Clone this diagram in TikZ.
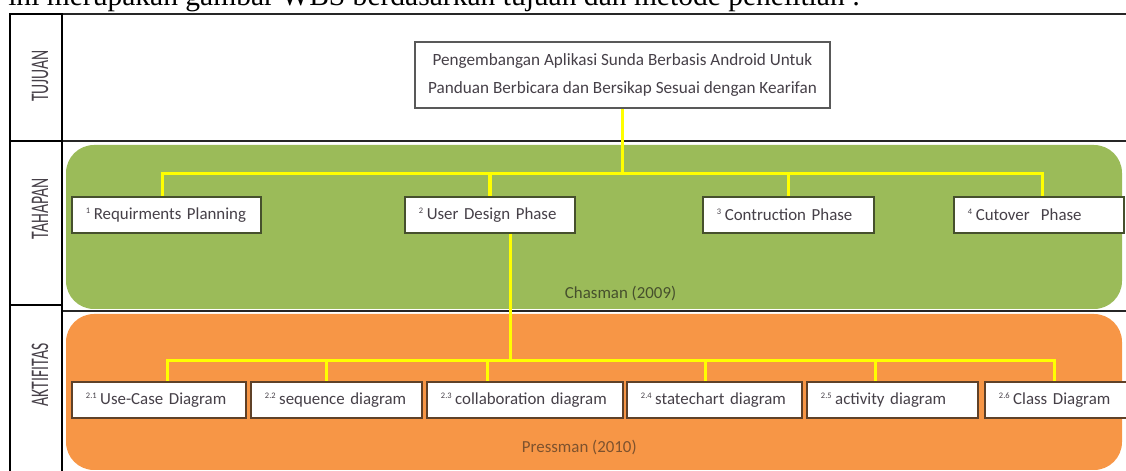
\documentclass[tikz,border=0pt]{standalone}
\usepackage{fontspec}
\setmainfont{Carlito}
\newfontfamily\docserif{Liberation Serif}
\usetikzlibrary{positioning,calc}

\definecolor{tahapgreen}{RGB}{155,187,89}
\definecolor{aktiforange}{RGB}{247,150,70}
\definecolor{lineyellow}{RGB}{255,255,0}
\definecolor{textgray}{RGB}{70,64,72}
\definecolor{greenedge}{RGB}{70,80,45}
\definecolor{orangeedge}{RGB}{95,65,40}

\newcommand{\boxfont}{\fontsize{12}{14}\selectfont}
\newcommand{\tx}[2]{\mbox{\textsuperscript{\fontsize{6}{6}\selectfont #1}\,#2}}

\tikzset{
  frame/.style={draw=black!85, line width=1pt},
  sidecol/.style={draw=black, line width=1.6pt},
  rowlabel/.style={rotate=90, text=textgray, font=\fontsize{18}{18}\selectfont},
  band/.style={rounded corners=0.7cm, draw=none},
  goalbox/.style={draw=black!65, line width=1.2pt, fill=white, minimum width=10.375cm,
    minimum height=1.65cm, align=center, text=textgray, font=\fontsize{12.2}{20.5}\selectfont},
  phasebox/.style={draw=greenedge, line width=1.2pt, fill=white, minimum height=0.9cm,
    inner xsep=0.35cm, inner ysep=0pt, text width=#1, align=left, text=textgray, font=\boxfont},
  actbox/.style={phasebox=#1, draw=orangeedge},
  link/.style={draw=lineyellow, line width=2.2pt}
}

\begin{document}
\begin{tikzpicture}[x=0.025cm, y=-0.025cm]
 \useasboundingbox (0,0) rectangle (1126,471);
 \clip (0,0) rectangle (1126,471);
 %
 \node[anchor=base west, inner sep=0pt, font=\docserif\fontsize{21}{21}\selectfont] (intro) at (8,6)
   {ini merupakan gambar WBS berdasarkan tujuan dan metode penelitian :};
 %
 \fill[tahapgreen, band] (66,145) rectangle (1122,309);
 \fill[aktiforange, band] (66,314) rectangle (1122,470);
 %
 \draw[frame] (62,14) -- (1140,14);
 \draw[frame] (62,141) -- (1140,141);
 \draw[frame] (62,311) -- (1140,311);
 \draw[sidecol] (10,14) rectangle (62,480);
 \draw[sidecol] (10,141) -- (62,141);
 \draw[sidecol] (10,305) -- (62,305);
 %
 \node[rowlabel] (tujuan) at (40,76) {\scalebox{0.62}[1]{TUJUAN}};
 \node[rowlabel] (tahapan) at (40,209) {\scalebox{0.62}[1]{TAHAPAN}};
 \node[rowlabel] (aktifitas) at (40,375) {\scalebox{0.62}[1]{AKTIFITAS}};
 %
 \node[goalbox] (goal) at (622.5,75)
   {Pengembangan Aplikasi Sunda Berbasis Android Untuk\\Panduan Berbicara dan Bersikap Sesuai dengan Kearifan};
 %
 \node[phasebox=4.025cm] (ph1) at (166.5,215) {\tx{1}{Requirments Planning}};
 \node[phasebox=3.55cm] (ph2) at (490,215) {\tx{2}{User Design Phase}};
 \node[phasebox=3.575cm] (ph3) at (788.5,215) {\tx{3}{Contruction Phase}};
 \node[phasebox=3.55cm] (ph4) at (1039,215) {\tx{4}{Cutover\ \ Phase}};
 %
 \node[actbox=3.65cm] (ak1) at (159,400) {\tx{2.1}{Use-Case Diagram}};
 \node[actbox=3.575cm] (ak2) at (336.5,400) {\tx{2.2}{sequence diagram}};
 \node[actbox=4.2cm] (ak3) at (525,400) {\tx{2.3}{collaboration diagram}};
 \node[actbox=3.675cm] (ak4) at (714.5,400) {\tx{2.4}{statechart diagram}};
 \node[actbox=3.575cm] (ak5) at (892.5,400) {\tx{2.5}{activity diagram}};
 \node[actbox=2.925cm] (ak6) at (1057.5,400) {\tx{2.6}{Class Diagram}};
 %
 \node[anchor=west, text=greenedge, font=\fontsize{12}{14}\selectfont] (chasman) at (560,294) {Chasman (2009)};
 \node[anchor=west, text=orangeedge!80!aktiforange, font=\fontsize{12}{14}\selectfont] (pressman) at (517,448) {Pressman (2010)};
 %
 \coordinate (bus1) at ($(goal.south)+(0,65)$);
 \coordinate (ud) at ($(ph2.south west)!0.62!(ph2.south east)$);
 \coordinate (bus2) at ($(ud)+(0,127)$);
 \draw[link] (goal.south) -- (bus1);
 \foreach \p/\f in {ph1/0.48, ph2/0.5, ph3/0.5, ph4/0.52}
   \draw[link] (bus1) -| ($(\p.north west)!\f!(\p.north east)$);
 \draw[link] (ud) -- (bus2);
 \foreach \a/\f in {ak1/0.55, ak2/0.44, ak3/0.31, ak4/0.45, ak5/0.40, ak6/0.48}
   \draw[link] (bus2) -| ($(\a.north west)!\f!(\a.north east)$);
\end{tikzpicture}
\end{document}
